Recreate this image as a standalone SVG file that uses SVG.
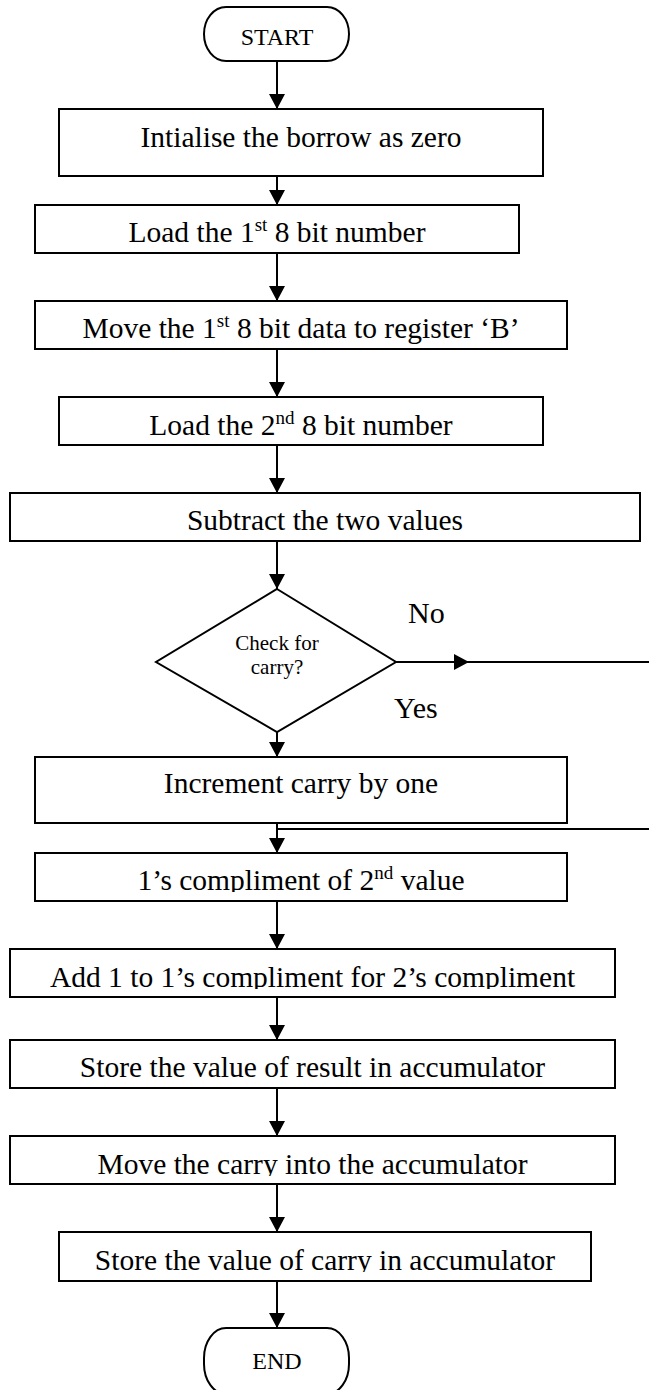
<svg xmlns="http://www.w3.org/2000/svg" width="649" height="1390" viewBox="0 0 649 1390">
<style>
.shape{fill:#fff;stroke:#000;stroke-width:2}
.lbl{font-family:"Liberation Serif","Times New Roman",serif;font-size:29.5px;fill:#000;text-anchor:middle}
.sm{font-family:"Liberation Serif","Times New Roman",serif;font-size:24px;fill:#000;text-anchor:middle}
.dia{font-family:"Liberation Serif","Times New Roman",serif;font-size:21px;fill:#000;text-anchor:middle}
.yn{font-family:"Liberation Serif","Times New Roman",serif;font-size:30px;fill:#000}
.con{fill:none;stroke:#000;stroke-width:2}
</style>
<defs>
<marker id="ah" viewBox="0 0 15 16" refX="15" refY="8" markerWidth="15" markerHeight="16" markerUnits="userSpaceOnUse" orient="auto">
<path d="M0,0 L15,8 L0,16 Z" fill="#000"/>
</marker>
<clipPath id="c7"><rect x="0" y="853" width="649" height="39"/></clipPath>
<clipPath id="c8"><rect x="0" y="949" width="649" height="40"/></clipPath>
<clipPath id="c10"><rect x="0" y="1136" width="649" height="40"/></clipPath>
<clipPath id="c11"><rect x="0" y="1232" width="649" height="40"/></clipPath>
</defs>
<rect width="649" height="1390" fill="#fff"/>
<g id="connectors">
<path class="con" d="M277,61 V109" marker-end="url(#ah)"/>
<path class="con" d="M277,176 V205" marker-end="url(#ah)"/>
<path class="con" d="M277,253 V301" marker-end="url(#ah)"/>
<path class="con" d="M277,349 V397" marker-end="url(#ah)"/>
<path class="con" d="M277,445 V493" marker-end="url(#ah)"/>
<path class="con" d="M277,541 V589" marker-end="url(#ah)"/>
<path class="con" d="M396,662 H469" marker-end="url(#ah)"/>
<path class="con" d="M469,662 H649"/>
<path class="con" d="M277,732 V757" marker-end="url(#ah)"/>
<path class="con" d="M649,829 H277"/>
<path class="con" d="M277,823 V853" marker-end="url(#ah)"/>
<path class="con" d="M277,901 V949" marker-end="url(#ah)"/>
<path class="con" d="M277,997 V1040" marker-end="url(#ah)"/>
<path class="con" d="M277,1088 V1136" marker-end="url(#ah)"/>
<path class="con" d="M277,1184 V1232" marker-end="url(#ah)"/>
<path class="con" d="M277,1281 V1328" marker-end="url(#ah)"/>
<text class="yn" x="408" y="623">No</text>
<text class="yn" x="394" y="718">Yes</text>
</g>
<g id="start">
<rect class="shape" x="204" y="7" width="145" height="54" rx="22" ry="27"/>
<text class="sm" x="277" y="45">START</text>
</g>
<g id="init">
<rect class="shape" x="59" y="109" width="484" height="67"/>
<text class="lbl" x="301" y="147">Intialise the borrow as zero</text>
</g>
<g id="load1">
<rect class="shape" x="35" y="205" width="484" height="48"/>
<text class="lbl" x="277" y="242">Load the 1<tspan font-size="19" dy="-11">st</tspan><tspan dy="11"> 8 bit number</tspan></text>
</g>
<g id="move1">
<rect class="shape" x="35" y="301" width="532" height="48"/>
<text class="lbl" x="301" y="338">Move the 1<tspan font-size="19" dy="-11">st</tspan><tspan dy="11"> 8 bit data to register ‘B’</tspan></text>
</g>
<g id="load2">
<rect class="shape" x="59" y="397" width="484" height="48"/>
<text class="lbl" x="301" y="435">Load the 2<tspan font-size="19" dy="-11">nd</tspan><tspan dy="11"> 8 bit number</tspan></text>
</g>
<g id="subtract">
<rect class="shape" x="10" y="493" width="630" height="48"/>
<text class="lbl" x="325" y="530">Subtract the two values</text>
</g>
<g id="check">
<polygon class="shape" points="277,589 396,662 277,732 156,662"/>
<text class="dia" x="277" y="650">Check for</text>
<text class="dia" x="277" y="674">carry?</text>
</g>
<g id="increment">
<rect class="shape" x="35" y="757" width="532" height="66"/>
<text class="lbl" x="301" y="793">Increment carry by one</text>
</g>
<g id="ones">
<rect class="shape" x="35" y="853" width="532" height="48"/>
<text class="lbl" x="301" y="890" clip-path="url(#c7)">1’s compliment of 2<tspan font-size="19" dy="-11">nd</tspan><tspan dy="11"> value</tspan></text>
</g>
<g id="twos">
<rect class="shape" x="10" y="949" width="605" height="48"/>
<text class="lbl" x="312.5" y="987" clip-path="url(#c8)">Add 1 to 1’s compliment for 2’s compliment</text>
</g>
<g id="storeresult">
<rect class="shape" x="10" y="1040" width="605" height="48"/>
<text class="lbl" x="312.5" y="1077">Store the value of result in accumulator</text>
</g>
<g id="movecarry">
<rect class="shape" x="10" y="1136" width="605" height="48"/>
<text class="lbl" x="312.5" y="1174" clip-path="url(#c10)">Move the carry into the accumulator</text>
</g>
<g id="storecarry">
<rect class="shape" x="59" y="1232" width="532" height="49"/>
<text class="lbl" x="325" y="1270" clip-path="url(#c11)">Store the value of carry in accumulator</text>
</g>
<g id="end">
<rect class="shape" x="204" y="1328" width="145" height="66" rx="22" ry="30"/>
<text class="sm" x="277" y="1369">END</text>
</g>
</svg>
